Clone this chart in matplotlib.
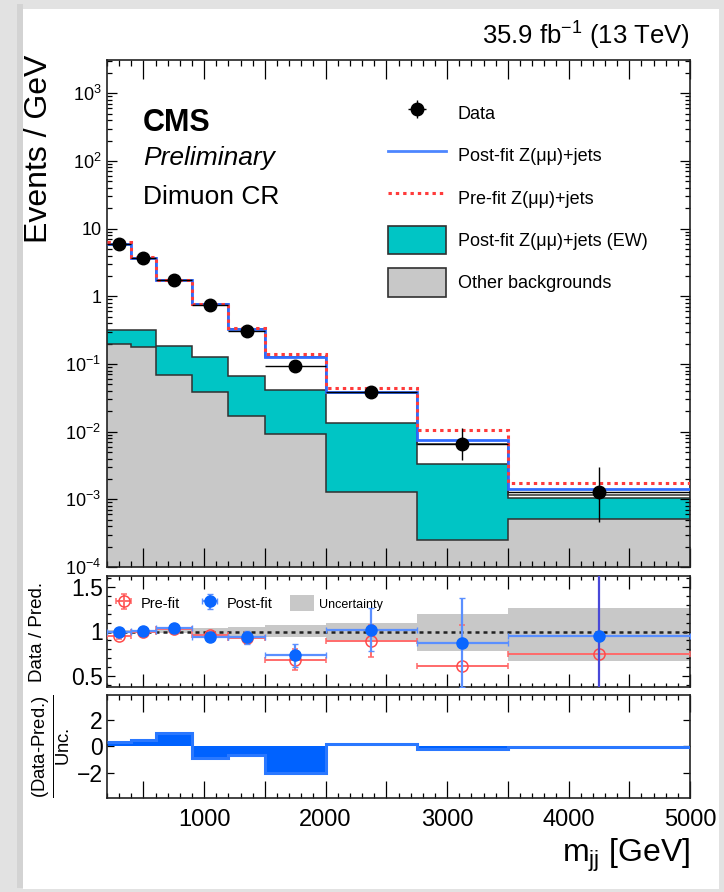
import numpy as np
import matplotlib.pyplot as plt
from matplotlib.ticker import MultipleLocator, LogLocator, FuncFormatter, NullFormatter, FixedLocator
from matplotlib.patches import Rectangle, Patch
from matplotlib.lines import Line2D

plt.rcParams['font.family'] = ['Liberation Sans', 'DejaVu Sans']
plt.rcParams['mathtext.fontset'] = 'custom'
plt.rcParams['mathtext.rm'] = 'Liberation Sans'
plt.rcParams['mathtext.it'] = 'Liberation Sans:italic'
plt.rcParams['mathtext.bf'] = 'Liberation Sans:bold'

# m_jj binning (GeV)
edges = np.array([200, 400, 600, 900, 1200, 1500, 2000, 2750, 3500, 5000])

# events / GeV
data = np.array([5.95, 3.72, 1.77, 0.745, 0.312, 0.094, 0.0384, 0.0066, 0.0013])
data_err_lo = np.array([0.17, 0.13, 0.07, 0.04, 0.025, 0.013, 0.0065, 0.0028, 0.00084])
data_err_hi = np.array([0.17, 0.13, 0.07, 0.04, 0.025, 0.015, 0.0078, 0.0047, 0.00175])

other_bkg = np.array([0.197, 0.180, 0.069, 0.039, 0.0169, 0.0093, 0.0013, 0.00025, 0.00051])
zmm_ew = np.array([0.118, 0.138, 0.117, 0.087, 0.050, 0.0319, 0.0120, 0.00305, 0.00055])
zmm_qcd = np.array([5.69, 3.38, 1.55, 0.634, 0.263, 0.085, 0.0242, 0.0033, 0.00009])
postfit_zmm = np.array([6.0, 3.70, 1.74, 0.76, 0.33, 0.126, 0.0384, 0.00757, 0.00141])
prefit_zmm = np.array([6.26, 3.76, 1.72, 0.776, 0.335, 0.14, 0.044, 0.0104, 0.00173])

# data / prediction
ratio_post = np.array([1.00, 1.01, 1.04, 0.94, 0.935, 0.735, 1.02, 0.875, 0.95])
ratio_post_err = np.array([0.03, 0.03, 0.03, 0.04, 0.07, 0.13, 0.24, 0.5, 1.2])
ratio_pre = np.array([0.95, 0.99, 1.03, 0.96, 0.93, 0.685, 0.89, 0.62, 0.75])
ratio_pre_err = np.array([0.03, 0.03, 0.03, 0.04, 0.07, 0.12, 0.18, 0.45, 1.0])
unc_lo = np.array([0.985, 0.985, 0.98, 0.955, 0.955, 0.935, 0.90, 0.78, 0.67])
unc_hi = np.array([1.015, 1.015, 1.02, 1.04, 1.045, 1.07, 1.10, 1.20, 1.26])

# (data - pred) / unc
pull = np.array([0.3, 0.43, 1.0, -0.9, -0.63, -2.05, 0.2, -0.2, -0.05])

centers = 0.5 * (edges[1:] + edges[:-1])
half = 0.5 * np.diff(edges)

W, H = 724, 892
fig = plt.figure(figsize=(W / 100, H / 100), dpi=100)
fig.patch.set_facecolor('#e2e2e2')
fig.patches.append(Rectangle((17 / W, 4 / H), 6 / W, 1 - 8 / H, transform=fig.transFigure,
                             facecolor='#d3d3d3', edgecolor='none', zorder=-2))
fig.patches.append(Rectangle((23 / W, 3 / H), 696 / W, 880 / H, transform=fig.transFigure,
                             facecolor='white', edgecolor='none', zorder=-1))


def box(left, top, right, bottom):
    return [left / W, 1 - bottom / H, (right - left) / W, (bottom - top) / H]


ax = fig.add_axes(box(107, 60, 690, 567))
ax_r = fig.add_axes(box(107, 576, 690, 687))
ax_p = fig.add_axes(box(107, 695, 690, 798))

blue = '#2f6bff'
red = '#ff3b3b'
cyan = '#00c5c5'
grey = '#c8c8c8'

# --- main panel: stacked backgrounds
ew_top = other_bkg + zmm_ew
stack_top = ew_top + zmm_qcd
ax.stairs(other_bkg, edges, baseline=1e-6, fill=True, color=grey, zorder=1)
ax.stairs(ew_top, edges, baseline=other_bkg, fill=True, color=cyan, zorder=1)
for lvl in (other_bkg, ew_top, stack_top):
    ax.stairs(lvl, edges, baseline=None, color='#303030', lw=1.1, zorder=2)
ax.stairs(postfit_zmm, edges, baseline=None, color=blue, lw=2.0, zorder=3)
ax.stairs(prefit_zmm, edges, baseline=None, color=red, lw=2.2, ls=(0, (1.1, 1.3)), zorder=3)
h_data = ax.errorbar(centers, data, xerr=half, yerr=[data_err_lo, data_err_hi], fmt='o',
                     color='black', ms=9, lw=1.0, capsize=0, zorder=5)

ax.set_yscale('log')
ax.set_ylim(1e-4, 3.1e3)
ax.set_xlim(200, 5000)


def log_label(v, pos):
    e = int(round(np.log10(v)))
    if e == 0:
        return '1'
    if e == 1:
        return '10'
    return r'$10^{%d}$' % e


ax.yaxis.set_major_locator(LogLocator(base=10, numticks=20))
ax.yaxis.set_minor_locator(LogLocator(base=10, subs=np.arange(2, 10), numticks=20))
ax.yaxis.set_major_formatter(FuncFormatter(log_label))
ax.yaxis.set_minor_formatter(NullFormatter())
ax.tick_params(axis='y', which='major', length=7.2, labelsize=13, pad=4)
ax.tick_params(axis='y', which='minor', length=3.6)

legend_handles = [
    h_data,
    Line2D([], [], color='#4d86ff', lw=2),
    Line2D([], [], color=red, lw=2.2, ls=(0, (1.1, 1.3))),
    Patch(facecolor=cyan, edgecolor='#303030', lw=1.2),
    Patch(facecolor=grey, edgecolor='#303030', lw=1.2),
]
legend_labels = ['Data', 'Post-fit Z(μμ)+jets', 'Pre-fit Z(μμ)+jets',
                 'Post-fit Z(μμ)+jets (EW)', 'Other backgrounds']
ax.legend(legend_handles, legend_labels, loc='upper left',
          bbox_to_anchor=((388 - 107) / 583, 1 - (99 - 60) / 507),
          frameon=False, fontsize=13, handlelength=3.2, handleheight=2.08,
          handletextpad=0.66, labelspacing=0.74, borderpad=0, borderaxespad=0)

ax.text(143 / W, 1 - 123 / H, 'CMS', transform=fig.transFigure, fontsize=22,
        fontweight='bold', va='center', ha='left')
ax.text(143 / W, 1 - 158 / H, 'Preliminary', transform=fig.transFigure, fontsize=19,
        fontstyle='italic', va='center', ha='left')
ax.text(143 / W, 1 - 197 / H, 'Dimuon CR', transform=fig.transFigure, fontsize=19,
        va='center', ha='left')
fig.text(690 / W, 1 - 36 / H, r'35.9 fb$^{-1}$ (13 TeV)', fontsize=18.5, ha='right', va='center')
fig.text(39 / W, 1 - 55 / H, 'Events / GeV', fontsize=23, rotation=90, ha='center', va='top')

# --- ratio panel
ax_r.stairs(unc_hi, edges, baseline=unc_lo, fill=True, color=grey, zorder=1)
ax_r.axhline(1.0, color='#222222', lw=1.8, ls=(0, (1.6, 1.6)), zorder=2)
h_pre = ax_r.errorbar(centers, ratio_pre, xerr=half, yerr=ratio_pre_err, fmt='o', ms=8,
                      mfc='none', mec='#ff4a4a', mew=1.1, color='#ff6a6a', lw=1.4,
                      capsize=2, zorder=3)
h_post = ax_r.errorbar(centers, ratio_post, xerr=half, yerr=ratio_post_err, fmt='o', ms=8,
                       color='#0a66ff', ecolor='#5a8fff', lw=1.6, capsize=2, zorder=4)
# last bin's vertical bar is drawn darker
h_post[2][1].set_colors(['#5a8fff'] * 8 + ['#4848d8'])
ax_r.set_ylim(0.38, 1.62)
ax_r.set_xlim(200, 5000)
ax_r.yaxis.set_major_locator(FixedLocator([0.5, 1.0, 1.5]))
ax_r.yaxis.set_major_formatter(FuncFormatter(lambda v, p: '%g' % v))
ax_r.yaxis.set_minor_locator(MultipleLocator(0.1))
ax_r.tick_params(axis='y', which='major', length=6, labelsize=16.5, pad=3)
ax_r.tick_params(axis='y', which='minor', length=3)
leg_r = ax_r.legend([h_pre, h_post, Patch(facecolor=grey, edgecolor='none')],
                    ['Pre-fit', 'Post-fit', 'Uncertainty'], ncol=3, loc='upper left',
                    bbox_to_anchor=((112 - 107) / 583, 1 - (595 - 576) / 111),
                    frameon=False, fontsize=10.5, handlelength=1.6, handleheight=1.3,
                    handletextpad=0.35, columnspacing=1.25, borderpad=0, borderaxespad=0)
leg_r.get_texts()[2].set_fontsize(9)
fig.text(37 / W, 1 - 632 / H, 'Data / Pred.', fontsize=13.5, rotation=90, ha='center', va='center')

# --- pull panel
ax_p.stairs(pull, edges, baseline=0, fill=True, color='#0062ff', lw=0, zorder=2)
ax_p.stairs(pull, edges, baseline=None, color='#2a78ff', lw=2.2, zorder=3)
ax_p.set_ylim(-3.9, 3.85)
ax_p.set_xlim(200, 5000)
ax_p.yaxis.set_major_locator(FixedLocator([-2, 0, 2]))
ax_p.yaxis.set_major_formatter(FuncFormatter(lambda v, p: '%d' % v if v >= 0 else '\u2212%d' % -v))
ax_p.tick_params(axis='y', which='major', length=5, labelsize=16.5, pad=3)
fig.text(51 / W, 1 - 746 / H, r'$\frac{\text{(Data-Pred.)}}{\text{Unc.}}$',
         fontsize=19, rotation=90, ha='center', va='center')

ax_p.set_xlabel(r'm$_{\mathrm{jj}}$ [GeV]', fontsize=23, loc='right', labelpad=4)


def x_label(v, pos):
    return '%d' % v if v % 1000 == 0 else ''


for a, long_len in ((ax, 13.7), (ax_r, 9.5), (ax_p, 12.5)):
    a.xaxis.set_major_locator(MultipleLocator(500))
    a.xaxis.set_minor_locator(MultipleLocator(100))
    a.tick_params(axis='both', which='both', direction='in', top=True, right=True, width=0.9)
    a.tick_params(axis='x', which='major', length=long_len * 0.55)
    a.tick_params(axis='x', which='minor', length=long_len * 0.3)
    for s in a.spines.values():
        s.set_linewidth(1.2)
        s.set_color('#222222')
    if a is ax_p:
        a.xaxis.set_major_formatter(FuncFormatter(x_label))
        a.tick_params(axis='x', labelsize=17, pad=8)
    else:
        a.tick_params(axis='x', labelbottom=False)
    for t in a.xaxis.get_major_ticks():
        if abs(t.get_loc() % 1000) < 1e-6:
            t.tick1line.set_markersize(long_len)
            t.tick2line.set_markersize(long_len)

fig.savefig('out.png', dpi=100, facecolor=fig.get_facecolor())
